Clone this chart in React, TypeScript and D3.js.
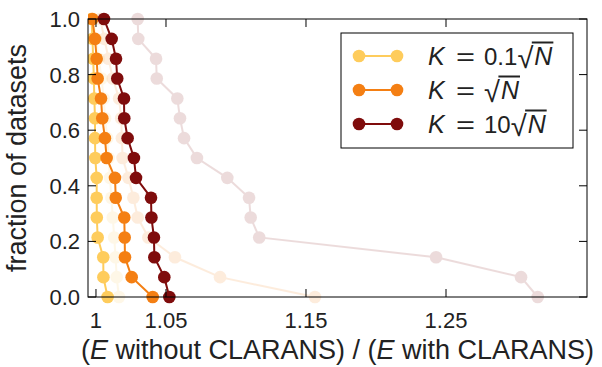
import React, { useEffect, useRef } from 'react';
import * as d3 from 'd3';

// fraction of datasets (15 levels, top to bottom)
const fractions = [14, 13, 12, 11, 10, 9, 8, 7, 6, 5, 4, 3, 2, 1, 0].map((v) => v / 14);

// series values (E without CLARANS) / (E with CLARANS), aligned with fractions
const kSmall = [0.9968, 0.9975, 0.998, 0.9985, 0.9988, 0.9993, 0.9993, 0.9995, 1.0005, 1.0005, 1.0006, 1.0012, 1.0052, 1.0053, 1.0083];
const kMid = [0.9974, 0.9993, 1.0005, 1.0012, 1.0036, 1.0045, 1.0064, 1.0076, 1.0136, 1.0141, 1.0202, 1.0205, 1.0207, 1.0255, 1.0405];
const kLarge = [1.0057, 1.0112, 1.0143, 1.0152, 1.02, 1.0202, 1.0226, 1.0271, 1.0286, 1.0393, 1.0396, 1.0414, 1.0417, 1.0488, 1.0524];

const kSmallFaded = [0.998, 1.0, 1.002, 1.004, 1.0055, 1.0065, 1.008, 1.009, 1.010, 1.011, 1.012, 1.013, 1.014, 1.0148, 1.0164];
const kMidFaded = [1.003, 1.006, 1.009, 1.012, 1.0165, 1.018, 1.0185, 1.019, 1.0232, 1.0267, 1.0298, 1.0374, 1.0564, 1.0886, 1.1564];
const kLargeFaded = [1.0298, 1.0302, 1.0429, 1.0434, 1.0581, 1.06, 1.0629, 1.0721, 1.0938, 1.1093, 1.1105, 1.1166, 1.2429, 1.3036, 1.3155];

const xTicks = [1, 1.05, 1.15, 1.25];
const xTickLabels = ['1', '1.05', '1.15', '1.25'];
const yTicks = [0, 0.2, 0.4, 0.6, 0.8, 1.0];

const seriesColors = ['#fecc5c', '#f47f13', '#7f0c0c'];
const legendCoefs = ['0.1', '', '10'];

const W = 602;
const H = 367;
const FONT = '"Liberation Sans", Arial, sans-serif';

export default function App() {
  const ref = useRef<SVGSVGElement>(null);

  useEffect(() => {
    const svg = d3.select(ref.current);
    svg.selectAll('*').remove();

    const left = 88, right = 587, top = 19, bottom = 297;
    const x = d3.scaleLinear().domain([0.9943, 1.3507]).range([left, right]);
    const y = d3.scaleLinear().domain([0, 1]).range([bottom, top]);

    const clip = svg.append('defs').append('clipPath').attr('id', 'plotclip');
    clip.append('rect').attr('x', left).attr('y', top - 8).attr('width', right - left).attr('height', bottom - top + 16);

    const plot = svg.append('g').attr('clip-path', 'url(#plotclip)');
    const line = d3.line<number>().x((d) => x(d)).y((_, i) => y(fractions[i]));

    const faded = [kSmallFaded, kMidFaded, kLargeFaded];
    const solid = [kSmall, kMid, kLarge];

    faded.forEach((vals, s) => {
      const g = plot.append('g').attr('opacity', 0.14);
      g.append('path').attr('d', line(vals)).attr('fill', 'none').attr('stroke', seriesColors[s]).attr('stroke-width', 2);
      g.selectAll('circle').data(vals).enter().append('circle')
        .attr('cx', (d) => x(d)).attr('cy', (_, i) => y(fractions[i])).attr('r', 6.3)
        .attr('fill', seriesColors[s]);
    });

    solid.forEach((vals, s) => {
      const g = plot.append('g');
      g.append('path').attr('d', line(vals)).attr('fill', 'none').attr('stroke', seriesColors[s]).attr('stroke-width', 2);
      g.selectAll('circle').data(vals).enter().append('circle')
        .attr('cx', (d) => x(d)).attr('cy', (_, i) => y(fractions[i])).attr('r', 6.3)
        .attr('fill', seriesColors[s]);
    });

    // frame
    svg.append('rect').attr('x', left).attr('y', top).attr('width', right - left).attr('height', bottom - top)
      .attr('fill', 'none').attr('stroke', '#000').attr('stroke-width', 1);

    const tl = 8;
    const axes = svg.append('g').attr('stroke', '#000').attr('stroke-width', 1);
    xTicks.forEach((t) => {
      axes.append('line').attr('x1', x(t)).attr('x2', x(t)).attr('y1', bottom).attr('y2', bottom - tl);
      axes.append('line').attr('x1', x(t)).attr('x2', x(t)).attr('y1', top).attr('y2', top + tl);
    });
    yTicks.forEach((t) => {
      axes.append('line').attr('x1', left).attr('x2', left + tl).attr('y1', y(t)).attr('y2', y(t));
      axes.append('line').attr('x1', right).attr('x2', right - tl).attr('y1', y(t)).attr('y2', y(t));
    });

    const txt = svg.append('g').attr('font-family', FONT).attr('fill', '#222');
    xTicks.forEach((t, i) => {
      txt.append('text').attr('x', x(t)).attr('y', 328).attr('text-anchor', 'middle').attr('font-size', 22).text(xTickLabels[i]);
    });
    yTicks.forEach((t) => {
      txt.append('text').attr('x', 80).attr('y', y(t) + 8).attr('text-anchor', 'end').attr('font-size', 22).text(d3.format('.1f')(t));
    });

    // x label
    const xl = txt.append('text').attr('x', (left + right) / 2).attr('y', 359).attr('text-anchor', 'middle').attr('font-size', 27);
    xl.append('tspan').text('(');
    xl.append('tspan').attr('font-style', 'italic').text('E');
    xl.append('tspan').text(' without CLARANS) / (');
    xl.append('tspan').attr('font-style', 'italic').text('E');
    xl.append('tspan').text(' with CLARANS)');

    // y label
    txt.append('text').attr('transform', `translate(26,${(top + bottom) / 2}) rotate(-90)`)
      .attr('text-anchor', 'middle').attr('font-size', 27).text('fraction of datasets');

    // legend
    const lg = svg.append('g');
    lg.append('rect').attr('x', 341).attr('y', 33).attr('width', 232).attr('height', 115)
      .attr('fill', '#fff').attr('stroke', '#000').attr('stroke-width', 1);
    const rows = [56, 90, 124];
    legendCoefs.forEach((coef, i) => {
      const ry = rows[i];
      lg.append('line').attr('x1', 359).attr('x2', 397).attr('y1', ry).attr('y2', ry)
        .attr('stroke', seriesColors[i]).attr('stroke-width', 2);
      lg.append('circle').attr('cx', 359).attr('cy', ry).attr('r', 6.3).attr('fill', seriesColors[i]);
      lg.append('circle').attr('cx', 397).attr('cy', ry).attr('r', 6.3).attr('fill', seriesColors[i]);
      const fs = 24;
      const base = ry + 8.5;
      const tg = lg.append('g').attr('font-family', FONT).attr('font-size', fs).attr('fill', '#222');
      tg.append('text').attr('x', 428).attr('y', base).attr('font-style', 'italic').attr('font-size', 25).text('K');
      tg.append('text').attr('x', 456).attr('y', base).attr('textLength', 19).attr('lengthAdjust', 'spacingAndGlyphs').text('=');
      let cx = 484;
      if (coef) {
        const t = tg.append('text').attr('x', cx).attr('y', base).text(coef);
        cx += (t.node() as SVGTextElement).getComputedTextLength();
      }
      const r = tg.append('text').attr('x', cx).attr('y', base + 3).attr('font-size', 29).text('\u221A');
      const rw = (r.node() as SVGTextElement).getComputedTextLength();
      const n = tg.append('text').attr('x', cx + rw + 1).attr('y', base).attr('font-style', 'italic').attr('font-size', 25).text('N');
      const nw = (n.node() as SVGTextElement).getComputedTextLength();
      const rb = (r.node() as SVGTextElement).getBBox();
      const ly = rb.y + 1;
      tg.append('line').attr('x1', cx + rw - 1.5).attr('x2', cx + rw + nw + 2).attr('y1', ly).attr('y2', ly)
        .attr('stroke', '#222').attr('stroke-width', 2);
    });
  }, []);

  return (
    <svg ref={ref} width={W} height={H} style={{ position: 'absolute', left: 0, top: 0, background: '#fff' }} />
  );
}
